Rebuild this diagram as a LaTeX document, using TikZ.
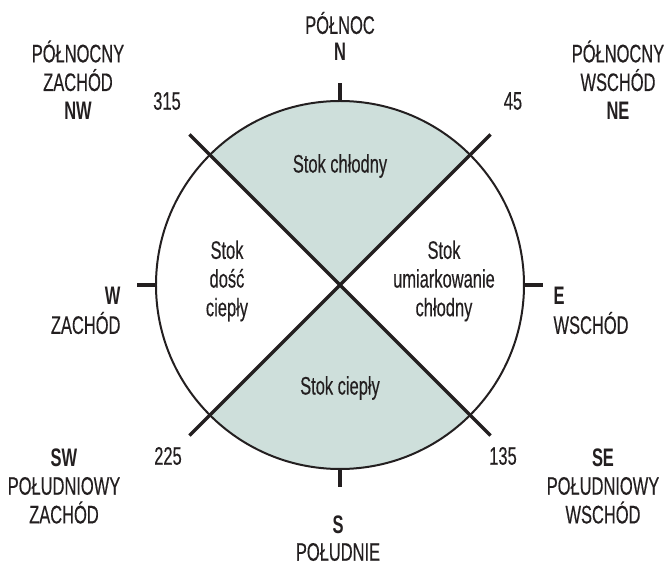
\documentclass[tikz,border=0pt]{standalone}
\usepackage{fontspec}
\setmainfont{Liberation Sans}[FakeStretch=0.65,UprightFeatures={FakeBold=0.3}]
\usepackage[dvipsnames]{xcolor}
\definecolor{slopefill}{RGB}{206,223,219}
\definecolor{inkgray}{RGB}{35,31,32}

\begin{document}
\begin{tikzpicture}[x=0.75pt,y=0.75pt,thick,color=inkgray,
    every node/.style={font=\fontsize{19}{21.5}\selectfont,text=inkgray,inner sep=0pt},
    dir node/.style={align=center},
    deg node/.style={},
    rim/.style={line width=1.5pt},
    cut/.style={line width=2.4pt},
    sector/.style={fill=slopefill}]
                \useasboundingbox (-340,-282) rectangle (325,285);

                % shaded slopes
                \fill[sector] (0,0) -- (45:184) arc (45:135:184) -- cycle;
                \fill[sector] (0,0) -- (-45:184) arc (-45:-135:184) -- cycle;
                \draw[rim] (0,0) circle (184);

                % diagonal ends and ticks
                \coordinate (d45) at (45:213);
                \coordinate (d135) at (-45:213);
                \coordinate (d225) at (-135:213);
                \coordinate (d315) at (135:213);
                \coordinate (tNi) at (90:184);
                \coordinate (tNo) at (90:202);
                \coordinate (tEi) at (0:184);
                \coordinate (tEo) at (0:203);
                \coordinate (tSi) at (-90:184);
                \coordinate (tSo) at (-90:202);
                \coordinate (tWi) at (180:184);
                \coordinate (tWo) at (180:203);
                \path[cut]
                    (d315) edge (d135)
                    (d45) edge (d225)
                    (tNi) edge (tNo)
                    (tEi) edge (tEo)
                    (tSi) edge (tSo)
                    (tWi) edge (tWo)
                ;

                % slope names
                \node (cold) at (0,119) {Stok chłodny};
                \node (warm) at (0,-103) {Stok ciepły};
                \node[dir node] (fairwarm) at (-113,4) {Stok\\dość\\ciepły};
                \node[dir node] (mildcold) at (104,4) {Stok\\umiarkowanie\\chłodny};

                % compass points
                \node (n) at (0,233) {\textbf{N}};
                \node (nname) at (0,262) {PÓŁNOC};
                \node (s) at (-2,-240) {\textbf{S}};
                \node (sname) at (-2,-267) {POŁUDNIE};
                \node[anchor=west] (e) at (213,-11) {\textbf{E}};
                \node[anchor=west] (ename) at (213,-38) {WSCHÓD};
                \node[anchor=east] (w) at (-219,-11) {\textbf{W}};
                \node[anchor=east] (wname) at (-219,-38) {ZACHÓD};
                \node[dir node] (nw) at (-262,205) {PÓŁNOCNY\\ZACHÓD\\\textbf{NW}};
                \node[dir node] (ne) at (278,205) {PÓŁNOCNY\\WSCHÓD\\\textbf{NE}};
                \node[dir node] (sw) at (-276,-201) {\textbf{SW}\\POŁUDNIOWY\\ZACHÓD};
                \node[dir node] (se) at (263,-201) {\textbf{SE}\\POŁUDNIOWY\\WSCHÓD};

                % degrees
                \node[deg node] (g315) at (-173,184) {315};
                \node[deg node] (g45) at (173,184) {45};
                \node[deg node] (g225) at (-172,-171) {225};
                \node[deg node] (g135) at (163,-171) {135};
            \end{tikzpicture}
\end{document}
